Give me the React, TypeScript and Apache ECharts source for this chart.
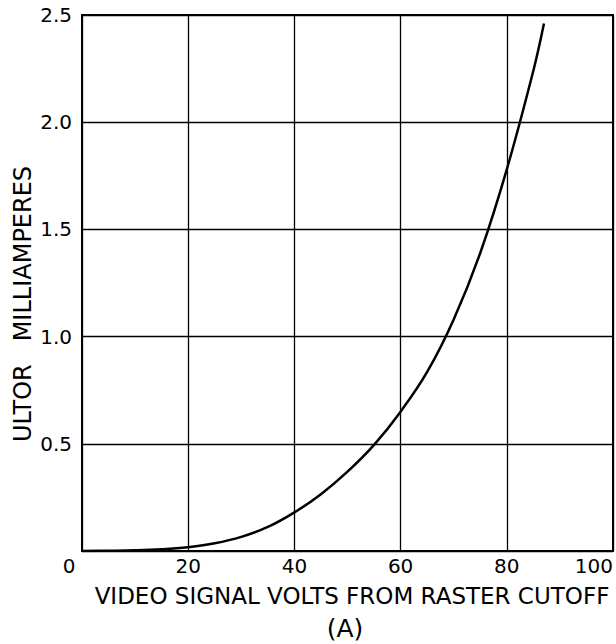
import React, { useEffect, useRef } from "react";
import * as echarts from "echarts";

const voltsX = [0, 5, 10, 15, 20, 25, 30, 35, 40, 45, 50, 55, 60, 65, 70, 75, 80, 85, 87];
const ultorMA = [0, 0.001, 0.003, 0.008, 0.018, 0.036, 0.066, 0.112, 0.18, 0.265, 0.37, 0.495, 0.65, 0.835, 1.08, 1.39, 1.78, 2.24, 2.46];
const xTicks = [0, 20, 40, 60, 80, 100];
const yTicks = [0.5, 1.0, 1.5, 2.0, 2.5];
const xAxisTitle = "VIDEO SIGNAL VOLTS FROM RASTER CUTOFF";
const yAxisTitle = "ULTOR   MILLIAMPERES";
const panelLabel = "(A)";

const FONT = "'DejaVu Sans', sans-serif";

export default function App() {
  const ref = useRef<HTMLDivElement>(null);
  useEffect(() => {
    if (!ref.current) return;
    const chart = echarts.init(ref.current, undefined, { renderer: "svg" });
    chart.setOption({
      animation: false,
      backgroundColor: "#fff",
      grid: {
        left: 82,
        right: 3,
        top: 15,
        bottom: 93,
        show: true,
        borderColor: "#000",
        borderWidth: 2,
        containLabel: false,
      },
      xAxis: {
        type: "value",
        min: 0,
        max: 100,
        interval: 20,
        axisLine: { show: false },
        axisTick: { show: false },
        splitLine: { show: true, lineStyle: { color: "#000", width: 1.3 } },
        axisLabel: {
          color: "#000",
          fontFamily: FONT,
          fontSize: 20,
          margin: 5,
          formatter: (v: number) => {
            if (v === 0) return "{min|0}";
            if (v === 100) return "{max|100}";
            return xTicks.includes(v) ? String(v) : "";
          },
          rich: {
            min: { fontFamily: FONT, fontSize: 20, color: "#000", padding: [0, 26, 0, 0] },
            max: { fontFamily: FONT, fontSize: 20, color: "#000" },
          },
          alignMaxLabel: "right",
        },
      },
      yAxis: {
        type: "value",
        min: 0,
        max: 2.5,
        interval: 0.5,
        axisLine: { show: false },
        axisTick: { show: false },
        splitLine: { show: true, lineStyle: { color: "#000", width: 1.3 } },
        axisLabel: {
          color: "#000",
          fontFamily: FONT,
          fontSize: 20,
          margin: 10,
          showMinLabel: false,
          formatter: (v: number) => {
            const t = yTicks.find((y) => Math.abs(y - v) < 1e-6);
            return t !== undefined ? t.toFixed(1) : "";
          },
        },
      },
      graphic: [
        {
          type: "text",
          x: 352,
          y: 596,
          style: {
            text: xAxisTitle,
            fontFamily: FONT,
            fontSize: 23,
            fill: "#000",
            align: "center",
            verticalAlign: "middle",
          },
        },
        {
          type: "text",
          x: 345,
          y: 628,
          style: {
            text: panelLabel,
            fontFamily: FONT,
            fontSize: 25,
            fill: "#000",
            align: "center",
            verticalAlign: "middle",
          },
        },
        {
          type: "text",
          x: 23,
          y: 304,
          rotation: Math.PI / 2,
          style: {
            text: yAxisTitle,
            fontFamily: FONT,
            fontSize: 24,
            fill: "#000",
            align: "center",
            verticalAlign: "middle",
          },
        },
      ],
      series: [
        {
          type: "line",
          data: voltsX.map((x, i) => [x, ultorMA[i]]),
          smooth: 0.4,
          showSymbol: false,
          lineStyle: { color: "#000", width: 2.5 },
        },
      ],
    });
    return () => chart.dispose();
  }, []);
  return <div ref={ref} style={{ width: 616, height: 644, position: "absolute", left: 0, top: 0 }} />;
}
